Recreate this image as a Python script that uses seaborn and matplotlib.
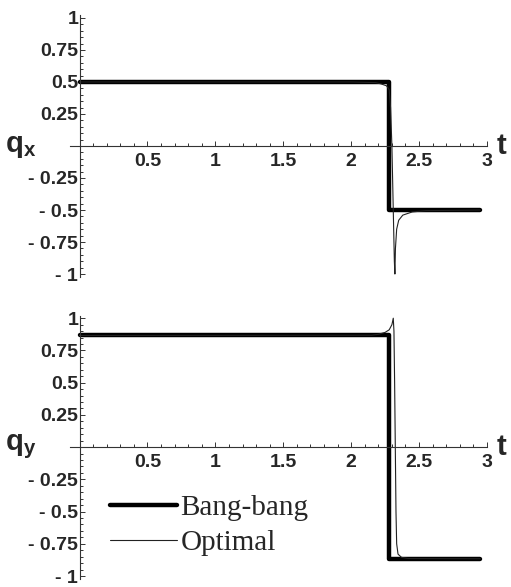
import numpy as np
import pandas as pd
import seaborn as sns
import matplotlib.pyplot as plt
from matplotlib.ticker import MultipleLocator, FixedLocator, FixedFormatter

# bang-bang control (switch near t = 2.28)
bang_t = [0.0, 2.28, 2.28, 2.95]
bang_qx = [0.5, 0.5, -0.5, -0.5]
bang_qy = [0.866, 0.866, -0.866, -0.866]

# optimal control
opt_tx = [0.0, 2.0, 2.18, 2.22, 2.26, 2.28, 2.29, 2.30, 2.31, 2.318, 2.322,
          2.326, 2.335, 2.35, 2.38, 2.45, 2.55, 2.95]
opt_qx = [0.5, 0.5, 0.495, 0.485, 0.47, 0.44, 0.3, 0.0, -0.5, -0.9, -1.0,
          -0.8, -0.65, -0.58, -0.54, -0.515, -0.505, -0.5]

opt_ty = [0.0, 2.15, 2.2, 2.25, 2.28, 2.30, 2.31, 2.315, 2.32, 2.325, 2.33,
          2.335, 2.345, 2.37, 2.42, 2.95]
opt_qy = [0.866, 0.868, 0.875, 0.89, 0.91, 0.95, 1.0, 0.9, 0.5, 0.0, -0.5,
          -0.75, -0.83, -0.855, -0.864, -0.866]

xticks = [0.5, 1, 1.5, 2, 2.5, 3]
xtick_labels = ['0.5', '1', '1.5', '2', '2.5', '3']
yticks = [1, 0.75, 0.5, 0.25, -0.25, -0.5, -0.75, -1]
ytick_labels = ['1', '0.75', '0.5', '0.25', '- 0.25', '- 0.5', '- 0.75', '- 1']

sns.set_style('white')
plt.rcParams['font.family'] = ['Liberation Sans', 'DejaVu Sans']
plt.rcParams['mathtext.fontset'] = 'custom'
plt.rcParams['mathtext.bf'] = 'Liberation Sans:bold'
plt.rcParams['mathtext.rm'] = 'Liberation Sans'

fig = plt.figure(figsize=(5.11, 5.87), dpi=100)
ax1 = fig.add_axes([0.137, 0.5288, 0.816, 0.445])
ax2 = fig.add_axes([0.137, 0.0143, 0.816, 0.448])

axc = '#333333'
for ax, bq, ot, oq, name in [(ax1, bang_qx, opt_tx, opt_qx, 'x'),
                             (ax2, bang_qy, opt_ty, opt_qy, 'y')]:
    lab = ax is ax2
    sns.lineplot(x=bang_t, y=bq, ax=ax, color='black', lw=3.2, sort=False,
                 estimator=None, label='Bang-bang' if lab else None)
    sns.lineplot(x=ot, y=oq, ax=ax, color='#222222', lw=0.8, sort=False,
                 estimator=None, label='Optimal' if lab else None)
    ax.set_xlim(-0.07, 3.0)
    ax.set_ylim(-1.02, 1.02)
    ax.set_facecolor('none')
    for s in ['top', 'right']:
        ax.spines[s].set_visible(False)
    ax.spines['left'].set_position(('data', 0))
    ax.spines['bottom'].set_position(('data', 0))
    for s in ['left', 'bottom']:
        ax.spines[s].set_color(axc)
        ax.spines[s].set_linewidth(0.8)
    ax.xaxis.set_major_locator(FixedLocator(xticks))
    ax.xaxis.set_major_formatter(FixedFormatter(xtick_labels))
    ax.yaxis.set_major_locator(FixedLocator(yticks))
    ax.yaxis.set_major_formatter(FixedFormatter(ytick_labels))
    ax.xaxis.set_minor_locator(MultipleLocator(0.1))
    ax.yaxis.set_minor_locator(MultipleLocator(0.05))
    ax.tick_params(which='both', direction='in', color=axc, width=0.7,
                   left=True, bottom=True)
    ax.tick_params(which='major', length=3.5)
    ax.tick_params(which='minor', length=2)
    ax.tick_params(axis='x', pad=5, labelsize=14)
    ax.tick_params(axis='y', pad=1, labelsize=14)
    for lbl in ax.get_xticklabels() + ax.get_yticklabels():
        lbl.set_fontweight('bold')
    ax.set_xlabel('')
    ax.set_ylabel('')
    ax.text(-0.32, 0.0, r'$\mathbf{q_%s}$' % name, ha='right', va='center',
            fontsize=21, clip_on=False)
    ax.text(3.07, 0.0, 't', ha='left', va='center', fontsize=21,
            fontweight='bold', clip_on=False)

ax1.get_legend() and ax1.get_legend().remove()
ax2.legend(loc='upper left', bbox_to_anchor=(0.096, 0.32), frameon=False,
           borderaxespad=0, borderpad=0, handlelength=2.3,
           handletextpad=0.12, labelspacing=0.3,
           prop={'family': ['Liberation Serif', 'DejaVu Serif'], 'size': 21})

fig.savefig('out.png', dpi=100)
